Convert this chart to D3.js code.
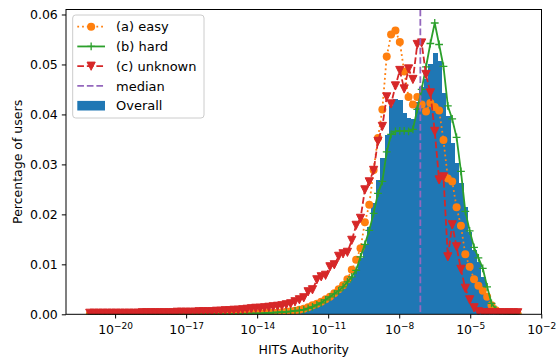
<!DOCTYPE html>
<html>
<head>
<meta charset="utf-8">
<script src="https://d3js.org/d3.v7.min.js"></script>
<style>
  body { margin: 0; background: #fff; }
  svg { display: block; }
  text { font-family: "DejaVu Sans", sans-serif; fill: #000; }
</style>
</head>
<body>
<svg id="chart" width="556" height="363"></svg>
<script>
// log10 of the first and last histogram bin edge, and the number of log-spaced bins
const binRange = [-21.161, -2.903];
const nBins = 99;

// Share of users per bin (Overall histogram)
const overall = [
  0, 0, 0, 0, 0, 0, 0, 0, 0, 0,
  0, 0, 0, 0, 0, 0, 0, 0, 0, 0,
  0, 0, 0, 0, 0, 0, 0.00002, 0.00002, 0.00003, 0.00003,
  0.00004, 0.00005, 0.00005, 0.00006, 0.00007, 0.00008, 0.0001, 0.00011, 0.00013, 0.00015,
  0.0002, 0.0002, 0.00025, 0.0003, 0.00035, 0.0004, 0.0005, 0.0006, 0.0007, 0.0008,
  0.0010, 0.0013, 0.0016, 0.0020, 0.0025, 0.0031, 0.0037, 0.0044, 0.0052, 0.0062,
  0.0074, 0.0090, 0.0113, 0.0140, 0.0175, 0.0222, 0.0269, 0.0313, 0.0359, 0.0416,
  0.0431, 0.0428, 0.0403, 0.0393, 0.0390, 0.0425, 0.0455, 0.0470, 0.0500, 0.0523,
  0.0506, 0.0443, 0.0396, 0.0343, 0.0303, 0.0262, 0.0215, 0.0165, 0.0128, 0.0105,
  0.0075, 0.0042, 0.0017, 0.0007, 0.0003, 0.0001, 0.00005, 0.00003, 0.00002
];

// (a) easy
const easy = [
  0, 0, 0, 0, 0, 0, 0, 0, 0, 0,
  0, 0, 0, 0, 0, 0, 0, 0, 0, 0,
  0, 0, 0, 0, 0, 0, 0.00002, 0.00003, 0.00004, 0.00005,
  0.00006, 0.00007, 0.00008, 0.0001, 0.00012, 0.00014, 0.00016, 0.00018, 0.0002, 0.0002,
  0.00025, 0.0003, 0.0003, 0.00035, 0.0004, 0.0005, 0.0006, 0.0007, 0.0009, 0.0011,
  0.0014, 0.0018, 0.0021, 0.0025, 0.0030, 0.0035, 0.0042, 0.0050, 0.0058, 0.0070,
  0.0089, 0.0109, 0.0132, 0.0184, 0.0219, 0.0289, 0.0353, 0.0410, 0.0516, 0.0560,
  0.0568, 0.0545, 0.0486, 0.0435, 0.0420, 0.0435, 0.0420, 0.0406, 0.0423, 0.0415,
  0.0408, 0.0349, 0.0272, 0.0266, 0.0214, 0.0177, 0.0120, 0.0095, 0.0070, 0.0057,
  0.0047, 0.0035, 0.0018, 0.0008, 0.0003, 0.0002, 0.0001, 0, 0
];

// (b) hard
const hard = [
  0, 0, 0, 0, 0, 0, 0, 0, 0, 0,
  0, 0, 0, 0, 0, 0, 0, 0, 0, 0,
  0, 0, 0, 0, 0, 0, 0.00002, 0.00002, 0.00003, 0.00004,
  0.00005, 0.00006, 0.00007, 0.00008, 0.0001, 0.00012, 0.00014, 0.00016, 0.00018, 0.0002,
  0.00025, 0.0003, 0.00035, 0.0004, 0.00045, 0.0005, 0.0006, 0.0007, 0.0008, 0.0009,
  0.0012, 0.0015, 0.0019, 0.0023, 0.0029, 0.0035, 0.0041, 0.0047, 0.0055, 0.0065,
  0.0075, 0.0088, 0.0115, 0.0140, 0.0168, 0.0202, 0.0242, 0.0266, 0.0325, 0.0360,
  0.0366, 0.0367, 0.0367, 0.0366, 0.0370, 0.0410, 0.0450, 0.0495, 0.0542, 0.0583,
  0.0540, 0.0496, 0.0417, 0.0391, 0.0354, 0.0286, 0.0206, 0.0167, 0.0134, 0.0113,
  0.0092, 0.0055, 0.0022, 0.0010, 0.0004, 0.0002, 0.0001, 0.0001, 0
];

// (c) unknown
const unknown = [
  0.0002, 0.0002, 0.0002, 0.0002, 0.0002, 0.0002, 0.0002, 0.0002, 0.0002, 0.0002,
  0.0002, 0.0002, 0.0003, 0.0003, 0.0003, 0.0003, 0.0003, 0.0003, 0.0003, 0.0003,
  0.0004, 0.0004, 0.0004, 0.0004, 0.0004, 0.0005, 0.0005, 0.0005, 0.0005, 0.0006,
  0.0006, 0.0007, 0.0007, 0.0008, 0.0008, 0.0009, 0.0010, 0.0011, 0.0012, 0.0012,
  0.0013, 0.0014, 0.0015, 0.0016, 0.0017, 0.0019, 0.0021, 0.0025, 0.0029, 0.0033,
  0.0045, 0.0049, 0.0069, 0.0075, 0.0078, 0.0095, 0.0099, 0.0116, 0.0121, 0.0124,
  0.0148, 0.0178, 0.0192, 0.0249, 0.0265, 0.0288, 0.0346, 0.0376, 0.0435, 0.0421,
  0.0457, 0.0488, 0.0451, 0.0491, 0.0470, 0.0540, 0.0543, 0.0480, 0.0443, 0.0366,
  0.0269, 0.0275, 0.0115, 0.0179, 0.0135, 0.0090, 0.0052, 0.0029, 0.0013, 0.0005,
  0.0003, 0.0003, 0.0003, 0.0003, 0.0003, 0.0003, 0.0003, 0.0003, 0.0003
];

const medianValue = 7.8e-8;

const xTickValues = [1e-20, 1e-17, 1e-14, 1e-11, 1e-8, 1e-5, 1e-2];
const yTickValues = [0, 0.01, 0.02, 0.03, 0.04, 0.05, 0.06];
const yMax = 0.061;

const xLabel = "HITS Authority";
const yLabel = "Percentage of users";
const legendLabels = ["(a) easy", "(b) hard", "(c) unknown", "median", "Overall"];

const colors = {
  easy: "#ff7f0e", hard: "#2ca02c", unknown: "#d62728",
  median: "#9467bd", overall: "#1f77b4"
};

// ---- layout ----
const plot = { left: 66, right: 541.5, top: 9.5, bottom: 314.3 };
const lw = 1.8;
const dashed = [6.66, 2.88].join(",");
const dotted = [1.8, 2.97].join(",");
const fontSize = 12.5;

const svg = d3.select("#chart");

// bin edges (log-spaced) and geometric bin centres
const step = (binRange[1] - binRange[0]) / nBins;
const edges = d3.range(nBins + 1).map(i => Math.pow(10, binRange[0] + i * step));
const centers = d3.range(nBins).map(i => Math.sqrt(edges[i] * edges[i + 1]));

// x domain: bin span plus 5% margins in log space
const span = binRange[1] - binRange[0];
const x = d3.scaleLog()
  .domain([Math.pow(10, binRange[0] - 0.05 * span), Math.pow(10, binRange[1] + 0.05 * span)])
  .range([plot.left, plot.right]);
const y = d3.scaleLinear().domain([0, yMax]).range([plot.bottom, plot.top]);

svg.append("defs").append("clipPath").attr("id", "clip")
  .append("rect")
  .attr("x", plot.left).attr("y", plot.top)
  .attr("width", plot.right - plot.left).attr("height", plot.bottom - plot.top);

const body = svg.append("g").attr("clip-path", "url(#clip)");

// Overall histogram
body.append("g").attr("shape-rendering", "crispEdges").selectAll("rect")
  .data(overall.map((v, i) => ({ v, i })).filter(d => d.v > 0))
  .join("rect")
  .attr("x", d => x(edges[d.i]))
  .attr("width", d => x(edges[d.i + 1]) - x(edges[d.i]) + 0.6)
  .attr("y", d => y(d.v))
  .attr("height", d => y(0) - y(d.v))
  .attr("fill", colors.overall);

const line = d3.line().x(d => x(d.c)).y(d => y(d.v));
const toPts = arr => arr.map((v, i) => ({ c: centers[i], v }));

function drawSeries(values, color, dash, marker) {
  const pts = toPts(values);
  const g = body.append("g");
  const p = g.append("path").datum(pts)
    .attr("d", line)
    .attr("fill", "none")
    .attr("stroke", color)
    .attr("stroke-width", lw)
    .attr("stroke-linejoin", "round");
  if (dash) p.attr("stroke-dasharray", dash);
  const mg = g.append("g");
  pts.forEach(d => marker(mg, x(d.c), y(d.v), color));
}

function circleMarker(g, cx, cy, color) {
  g.append("circle").attr("cx", cx).attr("cy", cy).attr("r", 4).attr("fill", color);
}
function plusMarker(g, cx, cy, color) {
  const s = 3.9;
  g.append("path")
    .attr("d", `M${cx - s},${cy}H${cx + s}M${cx},${cy - s}V${cy + s}`)
    .attr("stroke", color).attr("stroke-width", 1.3).attr("fill", "none");
}
function triMarker(g, cx, cy, color) {
  const s = 4.1;
  g.append("path")
    .attr("d", `M${cx},${cy + s}L${cx - s},${cy - s}L${cx + s},${cy - s}Z`)
    .attr("fill", color).attr("stroke", color).attr("stroke-width", 1).attr("stroke-linejoin", "miter");
}

drawSeries(easy, colors.easy, dotted, circleMarker);
drawSeries(hard, colors.hard, null, plusMarker);
drawSeries(unknown, colors.unknown, dashed, triMarker);

// median line
body.append("line")
  .attr("x1", x(medianValue)).attr("x2", x(medianValue))
  .attr("y1", plot.top).attr("y2", plot.bottom)
  .attr("stroke", colors.median).attr("stroke-width", lw)
  .attr("stroke-dasharray", dashed);

// ---- axes ----
const xAxis = d3.axisBottom(x).tickValues(xTickValues).tickSize(4.2).tickSizeOuter(0).tickPadding(5.5).tickFormat(() => "");
const gx = svg.append("g").attr("transform", `translate(0,${plot.bottom})`).call(xAxis);
gx.select(".domain").remove();
gx.selectAll(".tick line").attr("stroke", "#000").attr("stroke-width", 1);
gx.selectAll(".tick text").each(function (d) {
  const t = d3.select(this);
  const e = Math.round(Math.log10(d));
  t.text(null).attr("dy", null).attr("y", 20).attr("font-size", fontSize).attr("font-family", "DejaVu Sans");
  t.append("tspan").text("10");
  t.append("tspan").text("\u2212" + Math.abs(e))
    .attr("font-size", fontSize * 0.72).attr("dy", -fontSize * 0.42);
});

const yAxis = d3.axisLeft(y).tickValues(yTickValues).tickSize(4.2).tickSizeOuter(0).tickPadding(4).tickFormat(d3.format(".2f"));
const gy = svg.append("g").attr("transform", `translate(${plot.left},0)`).call(yAxis);
gy.select(".domain").remove();
gy.selectAll(".tick line").attr("stroke", "#000").attr("stroke-width", 1);
gy.selectAll(".tick text").attr("font-size", fontSize).attr("font-family", "DejaVu Sans").attr("dy", "0.36em");

// spines
svg.append("rect")
  .attr("x", plot.left).attr("y", plot.top)
  .attr("width", plot.right - plot.left).attr("height", plot.bottom - plot.top)
  .attr("fill", "none").attr("stroke", "#000").attr("stroke-width", 1);

// axis titles
svg.append("text")
  .attr("x", (plot.left + plot.right) / 2).attr("y", 353.5)
  .attr("text-anchor", "middle").attr("font-size", fontSize)
  .text(xLabel);
svg.append("text")
  .attr("transform", `translate(21.5,${(plot.top + plot.bottom) / 2}) rotate(-90)`)
  .attr("text-anchor", "middle").attr("font-size", fontSize)
  .text(yLabel);

// ---- legend ----
const leg = svg.append("g");
leg.append("rect")
  .attr("x", 72.7).attr("y", 15).attr("width", 131.3).attr("height", 103).attr("rx", 3)
  .attr("fill", "#fff").attr("fill-opacity", 0.8)
  .attr("stroke", "#cccccc").attr("stroke-width", 1);

const legendRows = [
  { label: legendLabels[0], color: colors.easy, dash: dotted, marker: circleMarker },
  { label: legendLabels[1], color: colors.hard, dash: null, marker: plusMarker },
  { label: legendLabels[2], color: colors.unknown, dash: dashed, marker: triMarker },
  { label: legendLabels[3], color: colors.median, dash: dashed, marker: null },
  { label: legendLabels[4], color: colors.overall, patch: true }
];
const rowY = i => 26.7 + i * 19.75;
const hx0 = 77.3, hx1 = 105;
legendRows.forEach((r, i) => {
  const cy = rowY(i);
  if (r.patch) {
    leg.append("rect").attr("x", hx0).attr("y", cy - 4.8).attr("width", hx1 - hx0).attr("height", 9.6).attr("fill", r.color);
  } else {
    const l = leg.append("line").attr("x1", hx0).attr("x2", hx1).attr("y1", cy).attr("y2", cy)
      .attr("stroke", r.color).attr("stroke-width", lw);
    if (r.dash) l.attr("stroke-dasharray", r.dash);
    if (r.marker) r.marker(leg, (hx0 + hx1) / 2, cy, r.color);
  }
  leg.append("text").attr("x", 116).attr("y", cy).attr("dy", "0.36em")
    .attr("font-size", 13).text(r.label);
});
</script>
</body>
</html>
